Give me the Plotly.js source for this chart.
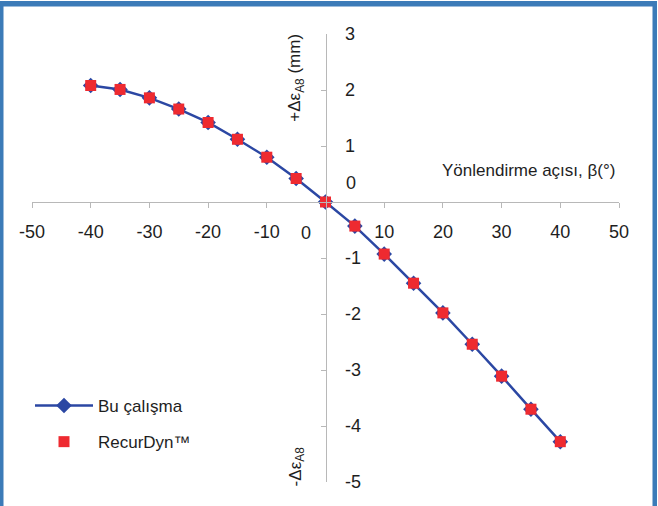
<!DOCTYPE html>
<html>
<head>
<meta charset="utf-8">
<script src="https://cdn.plot.ly/plotly-3.0.1.min.js"></script>
<style>
html,body{margin:0;padding:0;background:#fff;}
#chart{width:658px;height:506px;}
</style>
</head>
<body>
<div id="chart"></div>
<script>
// Data
const angles = [-40, -35, -30, -25, -20, -15, -10, -5, 0, 5, 10, 15, 20, 25, 30, 35, 40];
const buCalisma = [2.08, 2.01, 1.86, 1.66, 1.42, 1.12, 0.80, 0.42, 0, -0.43, -0.93, -1.45, -1.98, -2.54, -3.11, -3.70, -4.28];
const recurDyn = [2.08, 2.01, 1.86, 1.66, 1.42, 1.12, 0.80, 0.42, 0, -0.43, -0.93, -1.45, -1.98, -2.54, -3.11, -3.70, -4.28];
const xTickVals = [-50, -40, -30, -20, -10, 10, 20, 30, 40, 50];
const xTickText = ['-50', '-40', '-30', '-20', '-10', '10', '20', '30', '40', '50'];
const yTickVals = [-5, -4, -3, -2, -1, 1, 2, 3];
const yTickText = ['-5', '-4', '-3', '-2', '-1', '1', '2', '3'];
const zeroLabel = '0';
const seriesNames = ['Bu çalışma', 'RecurDyn™'];

const FONT = 'Liberation Sans, Arial, sans-serif';
const TXT = '#1e1e1e';
const BORDER = '#3c7bb8';

const traces = [
  {
    x: angles, y: buCalisma, name: seriesNames[0], type: 'scatter', mode: 'lines+markers',
    line: {color: '#2b47a3', width: 2.5},
    marker: {symbol: 'diamond', size: 12, color: '#2b47a3'},
    legendgroup: 'a'
  },
  {
    x: angles, y: recurDyn, name: seriesNames[1], type: 'scatter', mode: 'markers',
    marker: {symbol: 'square', size: 11, color: '#ee2a30'},
    legendgroup: 'b'
  }
];

// paper coordinate helpers for frame (plot area: x 32..619 px, y 34..482 px)
const L = 32, R = 39, T = 34, B = 24, W = 658 - L - R, H = 506 - T - B;
const px = v => (v - L) / W;
const py = v => (506 - B - v) / H;

const layout = {
  width: 658, height: 506,
  margin: {l: L, r: R, t: T, b: B, pad: 0},
  paper_bgcolor: '#ffffff',
  plot_bgcolor: 'rgba(0,0,0,0)',
  font: {family: FONT, size: 18, color: TXT},
  showlegend: true,
  legend: {
    x: px(30), y: py(388), xanchor: 'left', yanchor: 'top',
    bgcolor: 'rgba(0,0,0,0)', font: {size: 17, color: TXT, family: FONT},
    traceorder: 'grouped', tracegroupgap: 11, itemwidth: 58
  },
  xaxis: {
    range: [-50, 50], domain: [0, 1], anchor: 'free', position: 0.625,
    tickvals: xTickVals, ticktext: xTickText,
    ticks: 'outside', ticklen: 5, tickcolor: '#b8b8b8', tickwidth: 1,
    showline: true, linecolor: '#b8b8b8', linewidth: 1,
    showgrid: false, zeroline: false,
    ticklabelstandoff: 8,
    tickfont: {size: 18, color: TXT, family: FONT}
  },
  yaxis: {
    range: [-5, 3], domain: [0, 1], anchor: 'free', position: 0.5, side: 'right',
    tickvals: yTickVals, ticktext: yTickText,
    ticks: 'inside', ticklen: 5, tickcolor: '#b8b8b8', tickwidth: 1,
    showline: true, linecolor: '#b8b8b8', linewidth: 1,
    showgrid: false, zeroline: false,
    ticklabelstandoff: 15,
    tickfont: {size: 18, color: TXT, family: FONT}
  },
  annotations: [
    {xref: 'x', yref: 'y', x: -3.4, y: -0.55, text: zeroLabel, showarrow: false,
     font: {size: 18, color: TXT, family: FONT}, xanchor: 'center', yanchor: 'middle'},
    {xref: 'x', yref: 'y', x: 4.3, y: 0.34, text: zeroLabel, showarrow: false,
     font: {size: 18, color: TXT, family: FONT}, xanchor: 'center', yanchor: 'middle'},
    {xref: 'x', yref: 'y', x: -4.94, y: 2.21, text: '+Δε<sub>A8</sub> (mm)', textangle: -90,
     showarrow: false, font: {size: 17, color: TXT, family: FONT}, xanchor: 'center', yanchor: 'middle'},
    {xref: 'x', yref: 'y', x: -4.94, y: -4.73, text: '-Δε<sub>A8</sub>', textangle: -90,
     showarrow: false, font: {size: 17, color: TXT, family: FONT}, xanchor: 'center', yanchor: 'middle'},
    {xref: 'x', yref: 'y', x: 34.6, y: 0.57, text: 'Yönlendirme açısı, β(°)',
     showarrow: false, font: {size: 17, color: TXT, family: FONT}, xanchor: 'center', yanchor: 'middle'}
  ],
  shapes: [
    {type: 'rect', xref: 'paper', yref: 'paper', x0: px(0), x1: px(3.5), y0: py(506), y1: py(1),
     fillcolor: BORDER, line: {width: 0}, layer: 'above'},
    {type: 'rect', xref: 'paper', yref: 'paper', x0: px(0), x1: px(657), y0: py(6.5), y1: py(1),
     fillcolor: BORDER, line: {width: 0}, layer: 'above'},
    {type: 'rect', xref: 'paper', yref: 'paper', x0: px(652.5), x1: px(657), y0: py(506), y1: py(1),
     fillcolor: BORDER, line: {width: 0}, layer: 'above'}
  ]
};

Plotly.newPlot('chart', traces, layout, {displayModeBar: false, staticPlot: true});
</script>
</body>
</html>
